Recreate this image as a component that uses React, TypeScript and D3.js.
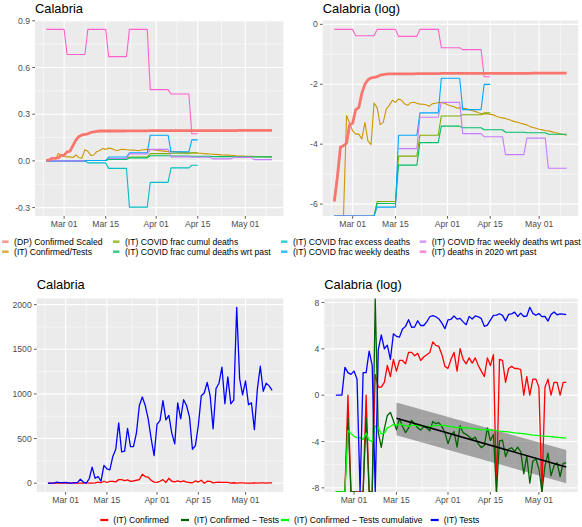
import React from "react";
import * as d3 from "d3";

// ---------- data ----------
const startDate = "2020-02-24";
const xTickDates = ["2020-03-01", "2020-03-15", "2020-04-01", "2020-04-15", "2020-05-01"];
const xTickLabels = ["Mar 01", "Mar 15", "Apr 01", "Apr 15", "May 01"];

// daily series, Feb 24 .. May 10
const dpConfirmedScaled = [
  0.0027, 0.0061, 0.0166, 0.0174, 0.0189, 0.0351, 0.0369, 0.0578, 0.062, 0.1,
  0.135, 0.157, 0.167, 0.17, 0.174, 0.183, 0.186, 0.19, 0.192, 0.192,
  0.192, 0.192, 0.192, 0.192, 0.192, 0.192, 0.192, 0.193, 0.193, 0.193,
  0.193, 0.193, 0.193, 0.193, 0.193, 0.194, 0.194, 0.194, 0.194, 0.194,
  0.194, 0.194, 0.194, 0.194, 0.194, 0.194, 0.195, 0.195, 0.195, 0.195,
  0.195, 0.195, 0.195, 0.195, 0.195, 0.195, 0.195, 0.195, 0.195, 0.195,
  0.195, 0.195, 0.195, 0.195, 0.195, 0.196, 0.196, 0.196, 0.196, 0.196,
  0.196, 0.196, 0.196, 0.196, 0.196, 0.196, 0.196,
];
const itTests = [
  1, 1, 1, 11, 7, 6, 8, 4, 0, 7,
  7, 45, 13, 0, 50, 180, 55, 75, 22, 200,
  160, 150, 300, 380, 675, 350, 360, 615, 410, 410,
  560, 870, 965, 870, 720, 500, 310, 660, 700, 925,
  710, 760, 560, 440, 900, 720, 935, 870, 740, 380,
  420, 650, 980, 1010, 1130, 980, 610, 1060, 1120, 1300,
  890, 1190, 890, 930, 1970, 1170, 990, 1145, 880, 900,
  600, 1050, 1310, 1030, 1120, 1090, 1040,
];
const itConfirmed = [
  0, 0, 0, 0, 1, 0, 0, 0, 0, 0,
  1, 0, 0, 6, 2, 2, 3, 13, 5, 22,
  8, 20, 20, 15, 40, 40, 30, 37, 20, 27,
  33, 40, 100, 74, 67, 33, 12, 10, 22, 40,
  8, 55, 22, 15, 25, 16, 25, 13, 8, 5,
  25, 13, 33, 0, 22, 20, 3, 10, 12, 10,
  10, 9, 1, 5, 1, 4, 4, 2, 0, 2,
  4, 1, 3, 3, 1, 3, 3,
];

// weekly series (weeks starting Mon Feb 24)
const fracCumulDeaths = [0, 0, 0.0027, 0.0123, 0.0247, 0.047, 0.049, 0.052];
const fracCumulDeathsWrtPast = [0, 0, 0.00253, 0.0091, 0.0193, 0.0334, 0.0317, 0.0296, 0.0273, 0.0268, 0.0255];
const fracExcessDeaths = [0, 0, -0.013, -0.048, -0.297, -0.138, -0.045, -0.028];
const fracWeeklyDeaths = [0, 0, 0.00224, 0.0247, 0.052, 0.165, 0.058, 0.135];
const fracWeeklyDeathsWrtPast: (number | null)[] = [0, 0, null, 0.0158, 0.045, 0.074, 0.026, 0.0235, 0.0129, 0.0224, 0.0082];
const deaths2020WrtPast = [0.845, 0.684, 0.845, 0.67, 0.845, 0.458, 0.43, 0.174];
const weeklyShortEnd = "2020-04-15";
const weeklyLongEnd = "2020-05-10";

// log-linear fit of (Confirmed - Tests) from Mar 15
const fitDates = ["2020-03-15", "2020-05-10"];
const fitValue = [-2.0, -6.2];
const fitLower = [-3.47, -7.6];
const fitUpper = [-0.64, -4.73];

const topLabels = [
  "(DP) Confirmed Scaled",
  "(IT) Confirmed/Tests",
  "(IT) COVID frac cumul deaths",
  "(IT) COVID frac cumul deaths wrt past",
  "(IT) COVID frac excess deaths",
  "(IT) COVID frac weekly deaths",
  "(IT) COVID frac weekly deaths wrt past",
  "(IT) deaths in 2020 wrt past",
];
const topColors = ["#F8766D", "#CD9600", "#7CAE00", "#00BE67", "#00BFC4", "#00A9FF", "#C77CFF", "#FF61CC"];

const bottomLabels = ["(IT) Confirmed", "(IT) Confirmed \u2212 Tests", "(IT) Confirmed \u2212 Tests cumulative", "(IT) Tests"];
const bottomColors = ["#FF0000", "#006400", "#00FF00", "#0000FF"];

const ticksTL = [-0.3, 0, 0.3, 0.6, 0.9];
const labelsTL = ["-0.3", "0.0", "0.3", "0.6", "0.9"];
const ticksTR = [-6, -4, -2, 0];
const labelsTR = ["-6", "-4", "-2", "0"];
const ticksBL = [0, 500, 1000, 1500, 2000];
const labelsBL = ["0", "500", "1000", "1500", "2000"];
const ticksBR = [-8, -4, 0, 4, 8];
const labelsBR = ["-8", "-4", "0", "4", "8"];

// ---------- helpers ----------
const FONT = "'Liberation Sans', Arial, Helvetica, sans-serif";
const DAY = 864e5;
const start = new Date(startDate + "T00:00:00Z");
const N = itTests.length;
const dates = d3.range(N).map((i) => new Date(start.getTime() + i * DAY));
const dayIndex = (s: string) => Math.round((new Date(s + "T00:00:00Z").getTime() - start.getTime()) / DAY);

function weeklyToDaily(weeks: (number | null)[], endDate: string): (number | null)[] {
  const last = dayIndex(endDate);
  return d3.range(N).map((i) => (i <= last ? weeks[Math.floor(i / 7)] ?? null : null));
}
const ln = (v: number | null) => (v == null ? null : Math.log(v));

let cc = 0, ct = 0;
const cumRatio = itTests.map((t, i) => {
  cc += itConfirmed[i];
  ct += t;
  return ct > 0 ? cc / ct : null;
});

type Series = { color: string; width: number; values: (number | null)[] };
type Box = { x0: number; x1: number; y0: number; y1: number };

function minorBreaks(majors: number[], lo: number, hi: number) {
  const b = [...majors];
  const bd = b[1] - b[0];
  if (lo < b[0]) b.unshift(b[0] - bd);
  if (hi > b[b.length - 1]) b.push(b[b.length - 1] + bd);
  const out: number[] = [];
  for (let i = 0; i < b.length - 1; i++) out.push((b[i] + b[i + 1]) / 2);
  return out.filter((v) => v > lo && v < hi);
}

function Panel(props: {
  id: string;
  box: Box;
  title: string;
  titleY: number;
  series: Series[];
  yTicks: number[];
  yLabels: string[];
  fit?: boolean;
}) {
  const { id, box, title, titleY, series, yTicks, yLabels, fit } = props;
  const xPad = (N - 1) * 0.05 * DAY;
  const xd0 = dates[0].getTime() - xPad;
  const xd1 = dates[N - 1].getTime() + xPad;
  const x = d3.scaleUtc().domain([new Date(xd0), new Date(xd1)]).range([box.x0, box.x1]);

  const finite: number[] = [];
  series.forEach((s) => s.values.forEach((v) => { if (v != null && Number.isFinite(v)) finite.push(v); }));
  if (fit) finite.push(...fitLower, ...fitUpper);
  const lo = d3.min(finite)!, hi = d3.max(finite)!;
  const pad = (hi - lo) * 0.05;
  const y = d3.scaleLinear().domain([lo - pad, hi + pad]).range([box.y1, box.y0]);

  const line = d3
    .line<[Date, number | null]>()
    .defined((d) => d[1] != null && !Number.isNaN(d[1]))
    .x((d) => x(d[0]))
    .y((d) => (d[1] === Infinity ? box.y0 : d[1] === -Infinity ? box.y1 : y(d[1] as number)));

  const majorX = xTickDates.map((s) => new Date(s + "T00:00:00Z").getTime());
  const minorX = minorBreaks(majorX, xd0, xd1);
  const minorY = minorBreaks(yTicks, lo - pad, hi + pad);

  const fitPts = fitDates.map((s, i) => ({ d: new Date(s + "T00:00:00Z"), v: fitValue[i], l: fitLower[i], u: fitUpper[i] }));
  const area = d3.area<any>().x((d) => x(d.d)).y0((d) => y(d.l)).y1((d) => y(d.u));
  const fitLine = d3.line<any>().x((d) => x(d.d)).y((d) => y(d.v));

  return (
    <g>
      <defs>
        <clipPath id={id}>
          <rect x={box.x0} y={box.y0} width={box.x1 - box.x0} height={box.y1 - box.y0} />
        </clipPath>
      </defs>
      <text x={box.x0} y={titleY} fontSize={12.9} fontFamily={FONT} fill="#000">{title}</text>
      <rect x={box.x0} y={box.y0} width={box.x1 - box.x0} height={box.y1 - box.y0} fill="#EBEBEB" />
      {minorX.map((v, i) => (
        <line key={"mx" + i} x1={x(new Date(v))} x2={x(new Date(v))} y1={box.y0} y2={box.y1} stroke="#fff" strokeWidth={0.55} />
      ))}
      {minorY.map((v, i) => (
        <line key={"my" + i} x1={box.x0} x2={box.x1} y1={y(v)} y2={y(v)} stroke="#fff" strokeWidth={0.55} />
      ))}
      {majorX.map((v, i) => (
        <line key={"Mx" + i} x1={x(new Date(v))} x2={x(new Date(v))} y1={box.y0} y2={box.y1} stroke="#fff" strokeWidth={1.1} />
      ))}
      {yTicks.map((v, i) => (
        <line key={"My" + i} x1={box.x0} x2={box.x1} y1={y(v)} y2={y(v)} stroke="#fff" strokeWidth={1.1} />
      ))}
      <g clipPath={`url(#${id})`}>
        {fit && <path d={area(fitPts) || ""} fill="#5a5a5a" fillOpacity={0.5} />}
        {series.map((s, i) => (
          <path
            key={i}
            d={line(dates.map((d, j) => [d, s.values[j]] as [Date, number | null])) || ""}
            fill="none"
            stroke={s.color}
            strokeWidth={s.width}
            strokeLinejoin="round"
          />
        ))}
        {fit && <path d={fitLine(fitPts) || ""} fill="none" stroke="#000" strokeWidth={1.5} />}
      </g>
      {yTicks.map((v, i) => (
        <g key={"yt" + i}>
          <line x1={box.x0 - 2.7} x2={box.x0} y1={y(v)} y2={y(v)} stroke="#333" strokeWidth={0.8} />
          <text x={box.x0 - 5} y={y(v)} dy="0.35em" textAnchor="end" fontSize={8.6} fontFamily={FONT} fill="#4D4D4D">
            {yLabels[i]}
          </text>
        </g>
      ))}
      {majorX.map((v, i) => (
        <g key={"xt" + i}>
          <line x1={x(new Date(v))} x2={x(new Date(v))} y1={box.y1} y2={box.y1 + 2.7} stroke="#333" strokeWidth={0.8} />
          <text x={x(new Date(v))} y={box.y1 + 10.5} textAnchor="middle" fontSize={8.6} fontFamily={FONT} fill="#4D4D4D">
            {xTickLabels[i]}
          </text>
        </g>
      ))}
    </g>
  );
}

export default function App() {
  const topLinear: (number | null)[][] = [
    dpConfirmedScaled,
    cumRatio,
    weeklyToDaily(fracCumulDeaths, weeklyShortEnd),
    weeklyToDaily(fracCumulDeathsWrtPast, weeklyLongEnd),
    weeklyToDaily(fracExcessDeaths, weeklyShortEnd),
    weeklyToDaily(fracWeeklyDeaths, weeklyShortEnd),
    weeklyToDaily(fracWeeklyDeathsWrtPast, weeklyLongEnd),
    weeklyToDaily(deaths2020WrtPast, weeklyShortEnd),
  ];
  // draw order: levels 2..8 then the DP series on top
  const order = [1, 2, 3, 4, 5, 6, 7, 0];
  const tl: Series[] = order.map((k) => ({ color: topColors[k], width: k === 0 ? 2.8 : 1.1, values: topLinear[k] }));
  const tr: Series[] = order.map((k) => ({ color: topColors[k], width: k === 0 ? 2.8 : 1.1, values: topLinear[k].map(ln) }));

  const bl: Series[] = [
    { color: bottomColors[0], width: 1.3, values: itConfirmed },
    { color: bottomColors[3], width: 1.3, values: itTests },
  ];
  const br: Series[] = [
    { color: bottomColors[0], width: 1.3, values: itConfirmed.map(ln) },
    { color: bottomColors[1], width: 1.3, values: itConfirmed.map((c, i) => Math.log(c) - Math.log(itTests[i])) },
    { color: bottomColors[2], width: 1.3, values: cumRatio.map(ln) },
    { color: bottomColors[3], width: 1.3, values: itTests.map(ln) },
  ];

  const topTextX = [14.1, 125, 293, 431.7];
  const topRowY = [241.7, 251.7];
  const bottomTextX = [113.3, 194, 294, 443.7];

  return (
    <svg width={582} height={527} style={{ position: "absolute", left: 0, top: 0, background: "#fff" }}>
      <rect width={582} height={527} fill="#fff" />
      <Panel id="cTL" box={{ x0: 35, x1: 283.3, y0: 20.5, y1: 216 }} title="Calabria" titleY={12.7} series={tl} yTicks={ticksTL} yLabels={labelsTL} />
      <Panel id="cTR" box={{ x0: 322.7, x1: 578.3, y0: 20.5, y1: 216 }} title="Calabria (log)" titleY={12.7} series={tr} yTicks={ticksTR} yLabels={labelsTR} />
      <Panel id="cBL" box={{ x0: 36.7, x1: 283.3, y0: 298.5, y1: 492 }} title="Calabria" titleY={289.3} series={bl} yTicks={ticksBL} yLabels={labelsBL} />
      <Panel id="cBR" box={{ x0: 324.3, x1: 577.7, y0: 298.5, y1: 492 }} title="Calabria (log)" titleY={289.3} series={br} yTicks={ticksBR} yLabels={labelsBR} fit />

      {topLabels.map((lab, i) => {
        const col = Math.floor(i / 2);
        const row = i % 2;
        const tx = topTextX[col];
        const cy = topRowY[row];
        return (
          <g key={"tl" + i}>
            <line x1={tx - 12} x2={tx - 5.5} y1={cy} y2={cy} stroke={topColors[i]} strokeWidth={2.6} strokeOpacity={0.75} />
            <text x={tx} y={cy} dy="0.35em" fontSize={8.6} fontFamily={FONT} fill="#000">{lab}</text>
          </g>
        );
      })}
      {bottomLabels.map((lab, i) => {
        const tx = bottomTextX[i];
        const cy = 520;
        return (
          <g key={"bl" + i}>
            <line x1={tx - 13} x2={tx - 5} y1={cy} y2={cy} stroke={bottomColors[i]} strokeWidth={2.2} />
            <text x={tx} y={cy} dy="0.35em" fontSize={8.6} fontFamily={FONT} fill="#000">{lab}</text>
          </g>
        );
      })}
    </svg>
  );
}
